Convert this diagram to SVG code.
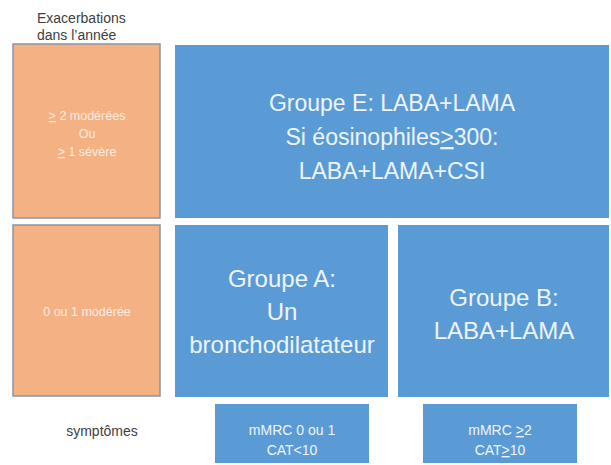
<svg xmlns="http://www.w3.org/2000/svg" width="611" height="465" viewBox="0 0 611 465">
<style>
.or{fill:#F4B183;stroke:#8a95a5;stroke-width:1.5}
.bl{fill:#5B9BD5}
.t{font-family:"Liberation Sans",Arial,sans-serif;text-anchor:middle}
.w{fill:#eef4fb}
.ow{fill:#fdeee4}
.lab{font-family:"Liberation Sans",Arial,sans-serif;fill:#404040}
.u{text-decoration:underline}
</style>
<rect width="611" height="465" fill="#ffffff"/>
<g id="header">
<text class="lab" x="37" y="23" font-size="14">Exacerbations</text>
<text class="lab" x="37" y="40" font-size="14">dans l’année</text>
</g>
<g id="ex-high">
<rect class="or" x="13" y="44" width="147" height="174"/>
<text class="t ow" font-size="12.5"><tspan x="87" y="120"><tspan class="u">&gt;</tspan> 2 modérées</tspan><tspan x="87" y="138">Ou</tspan><tspan x="87" y="156"><tspan class="u">&gt;</tspan> 1 sévère</tspan></text>
</g>
<g id="ex-low">
<rect class="or" x="13" y="225" width="147" height="171"/>
<text class="t ow" font-size="12.5" x="87" y="316">0 ou 1 modérée</text>
</g>
<g id="groupE">
<rect class="bl" x="175" y="45" width="434" height="173"/>
<text class="t w" font-size="23"><tspan x="392" y="111">Groupe E: LABA+LAMA</tspan><tspan x="392" y="145">Si éosinophiles<tspan class="u">&gt;</tspan>300:</tspan><tspan x="392" y="179">LABA+LAMA+CSI</tspan></text>
</g>
<g id="groupA">
<rect class="bl" x="175" y="225" width="213" height="172"/>
<text class="t w" font-size="24"><tspan x="282" y="287">Groupe A:</tspan><tspan x="282" y="320">Un</tspan><tspan x="282" y="353">bronchodilatateur</tspan></text>
</g>
<g id="groupB">
<rect class="bl" x="398" y="225" width="211" height="172"/>
<text class="t w" font-size="24"><tspan x="504" y="306">Groupe B:</tspan><tspan x="504" y="339">LABA+LAMA</tspan></text>
</g>
<g id="symptomes">
<text class="lab" x="102" y="436" font-size="14" text-anchor="middle">symptômes</text>
</g>
<g id="sympLow">
<rect class="bl" x="215" y="404" width="154" height="59"/>
<text class="t w" font-size="14"><tspan x="292" y="435">mMRC 0 ou 1</tspan><tspan x="292" y="455">CAT&lt;10</tspan></text>
</g>
<g id="sympHigh">
<rect class="bl" x="423" y="404" width="154" height="59"/>
<text class="t w" font-size="14"><tspan x="500" y="435">mMRC <tspan class="u">&gt;</tspan>2</tspan><tspan x="500" y="455">CAT<tspan class="u">&gt;</tspan>10</tspan></text>
</g>
<g id="connectors"></g>
</svg>
